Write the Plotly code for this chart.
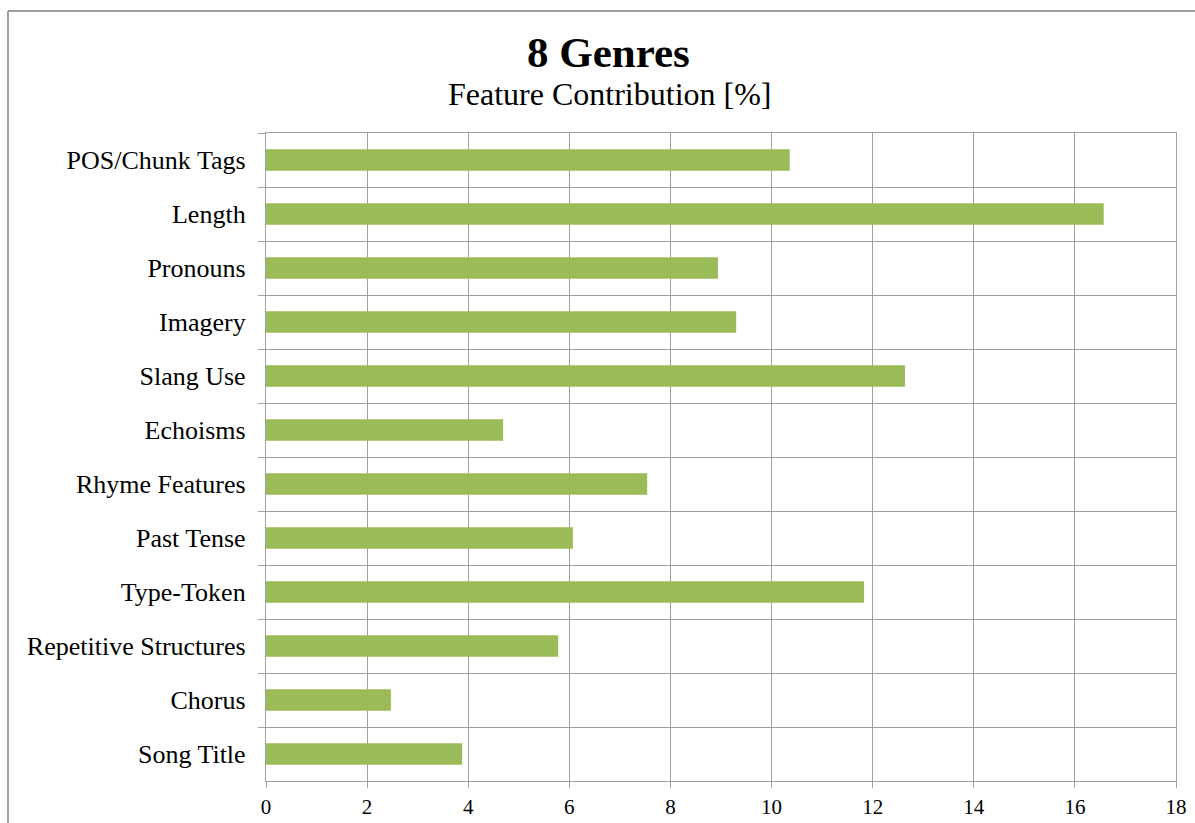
import plotly.graph_objects as go

categories = ["POS/Chunk Tags", "Length", "Pronouns", "Imagery", "Slang Use", "Echoisms",
              "Rhyme Features", "Past Tense", "Type-Token", "Repetitive Structures",
              "Chorus", "Song Title"]
values = [10.36, 16.57, 8.94, 9.30, 12.64, 4.69, 7.54, 6.07, 11.83, 5.78, 2.47, 3.88]
x_ticks = [0, 2, 4, 6, 8, 10, 12, 14, 16, 18]

title_text = "8 Genres"
subtitle_text = "Feature Contribution [%]"

W, H = 1195, 823
L, R, T, B = 266, 19, 133, 42
pw, ph = W - L - R, H - T - B

def px_x(p):
    return (p - L) / pw

def px_y(p):
    return (H - B - p) / ph

grid = "#A0A0A0"
font = "Liberation Serif, Times New Roman, serif"

fig = go.Figure(go.Bar(
    x=values, y=categories, orientation="h",
    marker=dict(color="#9BBB59", line=dict(width=0)),
    width=0.4,
))

fig.update_layout(
    width=W, height=H,
    margin=dict(l=L, r=R, t=T, b=B, autoexpand=False),
    paper_bgcolor="white", plot_bgcolor="white",
    showlegend=False,
    font=dict(family=font, color="black"),
    xaxis=dict(range=[0, 18], tickvals=x_ticks, showgrid=True, gridcolor=grid, gridwidth=1.3,
               zeroline=False, showline=True, linecolor=grid, linewidth=1.3, mirror=True,
               ticks="outside", ticklen=6, tickcolor=grid, tickwidth=1.3, automargin=False,
               tickfont=dict(size=21, family=font, color="black"), ticklabelstandoff=1),
    yaxis=dict(type="category", categoryorder="array", categoryarray=categories,
               autorange="reversed", tickson="boundaries", showgrid=True, gridcolor=grid,
               gridwidth=1.3, showline=True, linecolor=grid, linewidth=1.3, mirror=True,
               ticks="outside", ticklen=7, tickcolor=grid, tickwidth=1.3, automargin=False,
               tickfont=dict(size=26, family=font, color="black"), ticklabelstandoff=14),
    annotations=[
        dict(text="<b>" + title_text + "</b>", xref="paper", yref="paper",
             x=px_x(608), y=px_y(52), xanchor="center", yanchor="middle",
             showarrow=False, font=dict(size=43, family=font, color="black")),
        dict(text=subtitle_text, xref="paper", yref="paper",
             x=px_x(609), y=px_y(94), xanchor="center", yanchor="middle",
             showarrow=False, font=dict(size=32, family=font, color="black")),
    ],
    shapes=[
        dict(type="line", xref="paper", yref="paper", x0=px_x(8), x1=px_x(1200),
             y0=px_y(11), y1=px_y(11), line=dict(color="#A0A0A0", width=2)),
        dict(type="line", xref="paper", yref="paper", x0=px_x(8), x1=px_x(8),
             y0=px_y(11), y1=px_y(830), line=dict(color="#A0A0A0", width=2)),
    ],
)

fig.write_html("out.html")
